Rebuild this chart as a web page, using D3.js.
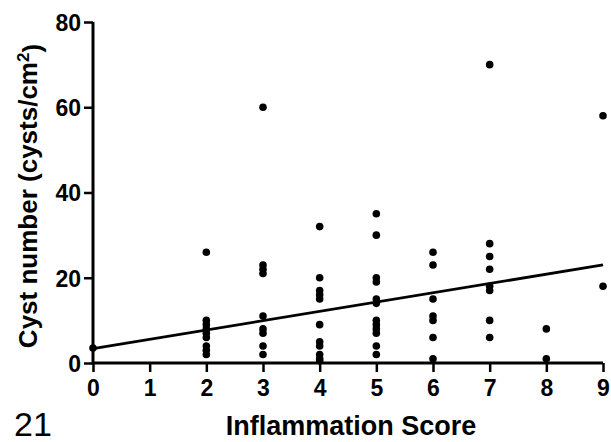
<!DOCTYPE html>
<html>
<head>
<meta charset="utf-8">
<script src="https://cdn.jsdelivr.net/npm/d3@7"></script>
<style>
  body { margin: 0; background: #fff; }
  text { font-family: "Liberation Sans", Arial, sans-serif; }
</style>
</head>
<body>
<div id="chart"></div>
<script>
// inflammation score columns and the cyst counts
var scores = [0, 2, 3, 4, 5, 6, 7, 8, 9];
var cysts = [
    [3.5],
    [26, 10, 9, 8, 7, 6, 4, 3, 2],
    [60, 23, 22, 21, 11, 8, 7, 4, 2],
    [32, 20, 17, 16, 15, 9, 5, 4, 2, 1, 0.5],
    [35, 30, 20, 19, 15, 14, 10, 9, 8, 7, 4, 2],
    [26, 23, 15, 11, 10, 6, 1],
    [70, 28, 25, 22, 18, 17, 10, 6],
    [8, 1],
    [58, 18]
];
// fitted line end points
var fitX = [0, 9];
var fitY = [3.4, 23];
var xTicks = [0, 1, 2, 3, 4, 5, 6, 7, 8, 9];
var yTicks = [0, 20, 40, 60, 80];

var margin = {top: 22, right: 8, bottom: 79, left: 93},
    width = 611 - margin.left - margin.right,
    height = 442 - margin.top - margin.bottom;

var svg = d3.select("#chart")
  .append("svg")
    .attr("width", 611)
    .attr("height", 442)
  .append("g")
    .attr("transform", "translate(" + margin.left + "," + margin.top + ")");

var x = d3.scaleLinear().domain([0, 9]).range([0, width]);
var y = d3.scaleLinear().domain([0, 80]).range([height, 0]);

var xAxis = svg.append("g")
    .attr("transform", "translate(0," + height + ")")
    .call(d3.axisBottom(x).tickValues(xTicks).tickSize(9).tickPadding(8).tickFormat(d3.format("d")));

var yAxis = svg.append("g")
    .call(d3.axisLeft(y).tickValues(yTicks).tickSize(9).tickPadding(3));

[xAxis, yAxis].forEach(function(a) {
    a.select(".domain").attr("stroke", "#000").attr("stroke-width", 3);
    a.selectAll(".tick line").attr("stroke", "#000").attr("stroke-width", 2.5);
    a.selectAll(".tick text")
        .attr("fill", "#000")
        .style("font-size", "23px")
        .style("font-weight", "bold");
});
// axis paths without the outer end caps
xAxis.select(".domain").attr("d", "M0,0H" + width);
yAxis.select(".domain").attr("d", "M0," + (height + 1.5) + "V0");
yAxis.selectAll(".tick text").attr("dy", "0.36em");

// regression line
svg.append("path")
    .datum(fitX.map(function(d, i) { return [d, fitY[i]]; }))
    .attr("fill", "none")
    .attr("stroke", "#000")
    .attr("stroke-width", 2.8)
    .attr("d", d3.line()
        .x(function(d) { return x(d[0]); })
        .y(function(d) { return y(d[1]); }));

// points
var pts = [];
scores.forEach(function(s, i) {
    cysts[i].forEach(function(v) { pts.push({score: s, value: v}); });
});
svg.selectAll("circle.pt")
    .data(pts)
  .enter().append("circle")
    .attr("class", "pt")
    .attr("cx", function(d) { return x(d.score); })
    .attr("cy", function(d) { return y(d.value); })
    .attr("r", 3.8)
    .attr("fill", "#000");

// x axis label
svg.append("text")
    .attr("x", 258)
    .attr("y", height + 72)
    .attr("text-anchor", "middle")
    .style("font-size", "27px")
    .style("font-weight", "bold")
    .text("Inflammation Score");

// y axis label
var yl = svg.append("text")
    .attr("transform", "rotate(-90)")
    .attr("x", -174)
    .attr("y", -56)
    .attr("text-anchor", "middle")
    .style("font-size", "26px")
    .style("font-weight", "bold");
yl.append("tspan").text("Cyst number (cysts/cm");
yl.append("tspan").attr("dy", "-0.45em").style("font-size", "17px").text("2");
yl.append("tspan").attr("dy", "0.45em").text(")");

// figure number in the corner
svg.append("text")
    .attr("x", -79)
    .attr("y", height + 73)
    .style("font-size", "34px")
    .text("21");
</script>
</body>
</html>
